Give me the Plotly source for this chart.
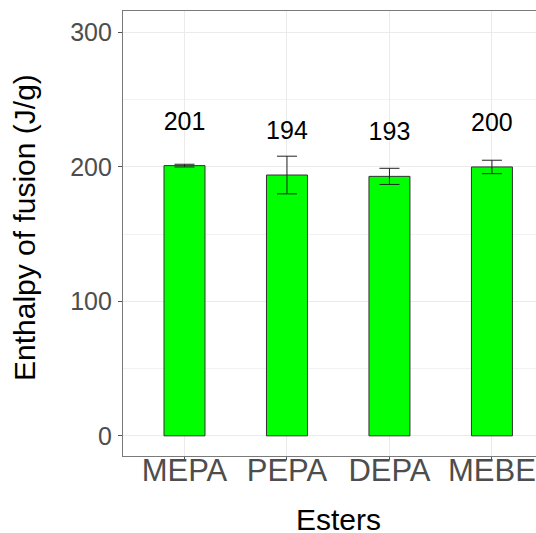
import plotly.graph_objects as go

esters = ["MEPA", "PEPA", "DEPA", "MEBE"]
enthalpy = [201, 194, 193, 200]
sd = [1, 14, 6, 5]
labels = ["201", "194", "193", "200"]
label_offset = 31.5
y_ticks = [0, 100, 200, 300]

FONT = "Liberation Sans, Arial, sans-serif"
W, H = 536, 533
ML, MR, MT, MB = 123, 0, 11, 77
PW, PH = W - ML - MR, H - MT - MB


def px_x(x):
    return (x - ML) / PW


def px_y(y):
    return (H - MB - y) / PH


fig = go.Figure()
fig.add_trace(go.Bar(
    x=esters, y=enthalpy, width=0.4,
    marker=dict(color="#00FF00", line=dict(color="#333333", width=1)),
    error_y=dict(type="data", array=sd, visible=True, color="#222222",
                 thickness=1, width=10),
    showlegend=False, hoverinfo="skip",
))
fig.add_trace(go.Scatter(
    x=esters, y=[v + label_offset for v in enthalpy], mode="text",
    text=labels, textposition="middle center",
    textfont=dict(family=FONT, size=25, color="black"),
    showlegend=False, hoverinfo="skip",
))

fig.update_layout(
    width=W, height=H,
    margin=dict(l=ML, r=MR, t=MT, b=MB),
    paper_bgcolor="white", plot_bgcolor="white",
    font=dict(family=FONT),
    xaxis=dict(
        type="category", range=[-0.6, 3.43],
        showgrid=True, gridcolor="#EBEBEB", gridwidth=1,
        showline=True, linecolor="#7a7a7a", linewidth=1.2, mirror=True,
        ticks="outside", ticklen=3, tickcolor="#555555",
        tickfont=dict(family=FONT, size=31, color="#4D4D4D"),
        ticklabelstandoff=-16,
    ),
    yaxis=dict(
        range=[-15, 316], tickvals=y_ticks,
        showgrid=True, gridcolor="#EBEBEB", gridwidth=1,
        minor=dict(dtick=50, showgrid=True, gridcolor="#F2F2F2", gridwidth=1),
        zeroline=False,
        showline=True, linecolor="#7a7a7a", linewidth=1.2, mirror=False,
        ticks="outside", ticklen=4, tickcolor="#555555",
        tickfont=dict(family=FONT, size=25, color="#4D4D4D"),
        ticklabelstandoff=1,
    ),
    annotations=[
        dict(text="Esters", xref="paper", yref="paper",
             x=px_x(338), y=px_y(519), xanchor="center", yanchor="middle",
             showarrow=False, font=dict(family=FONT, size=30, color="black")),
        dict(text="Enthalpy of fusion (J/g)", xref="paper", yref="paper",
             x=px_x(24), y=px_y(228),
             xanchor="center", yanchor="middle", textangle=-90,
             showarrow=False, font=dict(family=FONT, size=30, color="black")),
    ],
)

fig.write_html("out.html", config={"displayModeBar": False},
               post_script="document.body.style.margin='0';")
